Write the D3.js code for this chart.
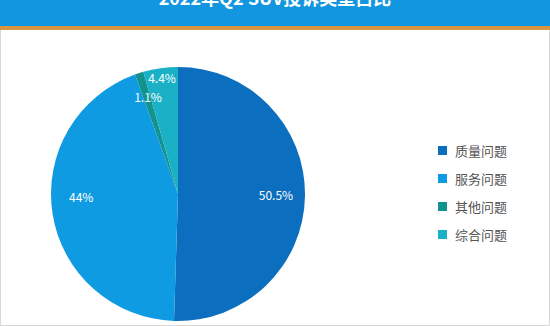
<!DOCTYPE html>
<html>
<head>
<meta charset="utf-8">
<script src="https://cdn.jsdelivr.net/npm/d3@7"></script>
<style>
  html, body { margin: 0; padding: 0; background: #fff; }
  svg { display: block; font-family: "Microsoft YaHei", "Noto Sans CJK SC", sans-serif; }
</style>
</head>
<body>
<svg id="chart" width="550" height="326"></svg>
<script>
const title = '2022年Q2 SUV投诉类型占比';
const categories = ['质量问题', '服务问题', '其他问题', '综合问题'];
const shares = [50.5, 44, 1.1, 4.4];
const colors = ['#0b6ebf', '#0f9be2', '#13938f', '#1ab1c6'];

const width = 550, height = 326;
const cx = 178, cy = 194, radius = 127;

const svg = d3.select('#chart');

// frame + title bar
svg.append('rect')
	.attr('x', 0.5).attr('y', 0.5)
	.attr('width', width - 1).attr('height', height - 1)
	.attr('fill', '#fff').attr('stroke', '#d8d8d8');
svg.append('rect')
	.attr('x', 0).attr('y', 0).attr('width', width).attr('height', 27)
	.attr('fill', '#1396e0');
svg.append('rect')
	.attr('x', 0).attr('y', 26).attr('width', width).attr('height', 4)
	.attr('fill', '#d8953f');
svg.append('text')
	.attr('x', width / 2).attr('y', 5)
	.attr('text-anchor', 'middle')
	.attr('fill', '#fff')
	.attr('font-size', 18).attr('font-weight', 'bold')
	.text(title);

const data = categories.map((c, i) => ({ name: c, value: shares[i], color: colors[i] }));

const pie = d3.pie().sort(null).value(d => d.value);
const arc = d3.arc().innerRadius(0).outerRadius(radius);
const arcs = pie(data);

const g = svg.append('g').attr('transform', `translate(${cx},${cy})`);

g.selectAll('path')
	.data(arcs)
	.join('path')
	.attr('d', arc)
	.attr('fill', d => d.data.color);

// labels: small slices pushed out a bit so they don't collide
const labelR = [98, 98, 98, 116];
const labelShift = [0, -12, -3, 0];
g.selectAll('text.lbl')
	.data(arcs)
	.join('text')
	.attr('class', 'lbl')
	.attr('transform', (d, i) => {
		const a = d3.arc().innerRadius(labelR[i]).outerRadius(labelR[i]);
		const [x, y] = a.centroid(d);
		return `translate(${x},${y + labelShift[i]})`;
	})
	.attr('text-anchor', 'middle')
	.attr('dy', '0.35em')
	.attr('fill', '#fff')
	.attr('font-size', 12)
	.text(d => d.data.value + '%');

// legend
const legend = svg.append('g').attr('transform', 'translate(438,146)');
const item = legend.selectAll('g')
	.data(data)
	.join('g')
	.attr('transform', (d, i) => `translate(0,${i * 28})`);
item.append('rect')
	.attr('width', 9).attr('height', 9)
	.attr('fill', d => d.color);
item.append('text')
	.attr('x', 17).attr('y', 5)
	.attr('dy', '0.35em')
	.attr('fill', '#555')
	.attr('font-size', 13)
	.text(d => d.name);
</script>
</body>
</html>
